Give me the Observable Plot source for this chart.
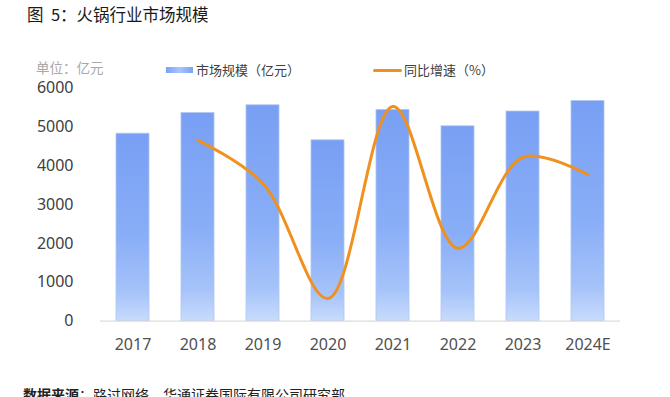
<!DOCTYPE html>
<html><head><meta charset="utf-8">
<script src="https://cdn.jsdelivr.net/npm/d3@7"></script>
<script src="https://cdn.jsdelivr.net/npm/@observablehq/plot@0.6"></script>
<style>
body{margin:0;background:#fff;width:670px;height:397px;overflow:hidden;position:relative;font-family:"Noto Sans CJK SC","Noto Sans",sans-serif}
#title{position:absolute;left:27px;top:4px;font-size:16.5px;line-height:20px;color:#1a1a1a;white-space:pre}
#unit{position:absolute;left:36px;top:60px;font-size:13.5px;line-height:14px;color:#a8a8a8}
.leg{position:absolute;top:62px;font-size:13px;line-height:16px;color:#404040;display:flex;align-items:center}
.sw-bar{display:inline-block;width:27px;height:6px;background:linear-gradient(90deg,#7aa2f4,#a9c4fa,#7aa2f4);margin-right:3px}
.sw-line{display:inline-block;width:29px;height:3px;background:#f0901e;border-radius:2px;margin-right:2px}
#chart{position:absolute;left:0;top:30px}
#caption{position:absolute;left:23px;top:386px;font-size:14px;line-height:17px;color:#222;white-space:nowrap}
</style></head><body>
<div id="title">图  5：火锅行业市场规模</div>
<div id="unit">单位：亿元</div>
<div class="leg" style="left:166px"><span class="sw-bar"></span>市场规模（亿元）</div>
<div class="leg" style="left:373px"><span class="sw-line"></span>同比增速（%）</div>
<div id="chart"></div>
<div id="caption"><b>数据来源</b>：路过网络，华通证券国际有限公司研究部</div>
<script>
const years = ["2017","2018","2019","2020","2021","2022","2023","2024E"];
const marketSize = [4820, 5350, 5550, 4650, 5430, 5010, 5390, 5660];
const growthRates = [null, 11.0, 3.6, -16.1, 16.8, -7.5, 8.1, 5.1];
const yTicks = [0, 1000, 2000, 3000, 4000, 5000, 6000];
const growthDomain = [-20, 20];

const toLeft = d3.scaleLinear().domain(growthDomain).range([0, 6000]);
const rows = years.map((y, i) => ({year: y, size: marketSize[i], g: growthRates[i]}));

const svg = Plot.plot({
  width: 670, height: 350,
  marginTop: 57.3, marginBottom: 59.3, marginLeft: 100, marginRight: 50,
  style: {fontFamily: "'Noto Sans', sans-serif", fontSize: "16px", background: "transparent"},
  x: {domain: years, paddingInner: 0.49, paddingOuter: 0.245},
  y: {domain: [0, 6000]},
  marks: [
    Plot.barY(rows, {x: "year", y: "size", fill: "url(#barGrad)", stroke: "#b0c6f0", strokeWidth: 0.8}),
    Plot.ruleY([0], {stroke: "#dcdcdc", strokeWidth: 1.2}),
    Plot.lineY(rows.filter(d => d.g != null), {x: "year", y: d => toLeft(d.g), curve: "catmull-rom", stroke: "#f0901e", strokeWidth: 3}),
    Plot.axisY(yTicks, {tickSize: 0, tickPadding: 27, tickFormat: d3.format("d"), fontSize: 16, fill: "#404040", label: null}),
    Plot.axisX({tickSize: 0, tickPadding: 17, fontSize: 16, fill: "#505050", label: null})
  ]
});
const defs = d3.select(svg).insert("defs", ":first-child");
const grad = defs.append("linearGradient").attr("id", "barGrad").attr("x1", 0).attr("y1", 0).attr("x2", 0).attr("y2", 1);
grad.append("stop").attr("offset", "0%").attr("stop-color", "#789ff4");
grad.append("stop").attr("offset", "55%").attr("stop-color", "#89aef7");
grad.append("stop").attr("offset", "85%").attr("stop-color", "#a6c3f9");
grad.append("stop").attr("offset", "100%").attr("stop-color", "#c8dbfc");
document.getElementById("chart").appendChild(svg);
</script>
</body></html>
